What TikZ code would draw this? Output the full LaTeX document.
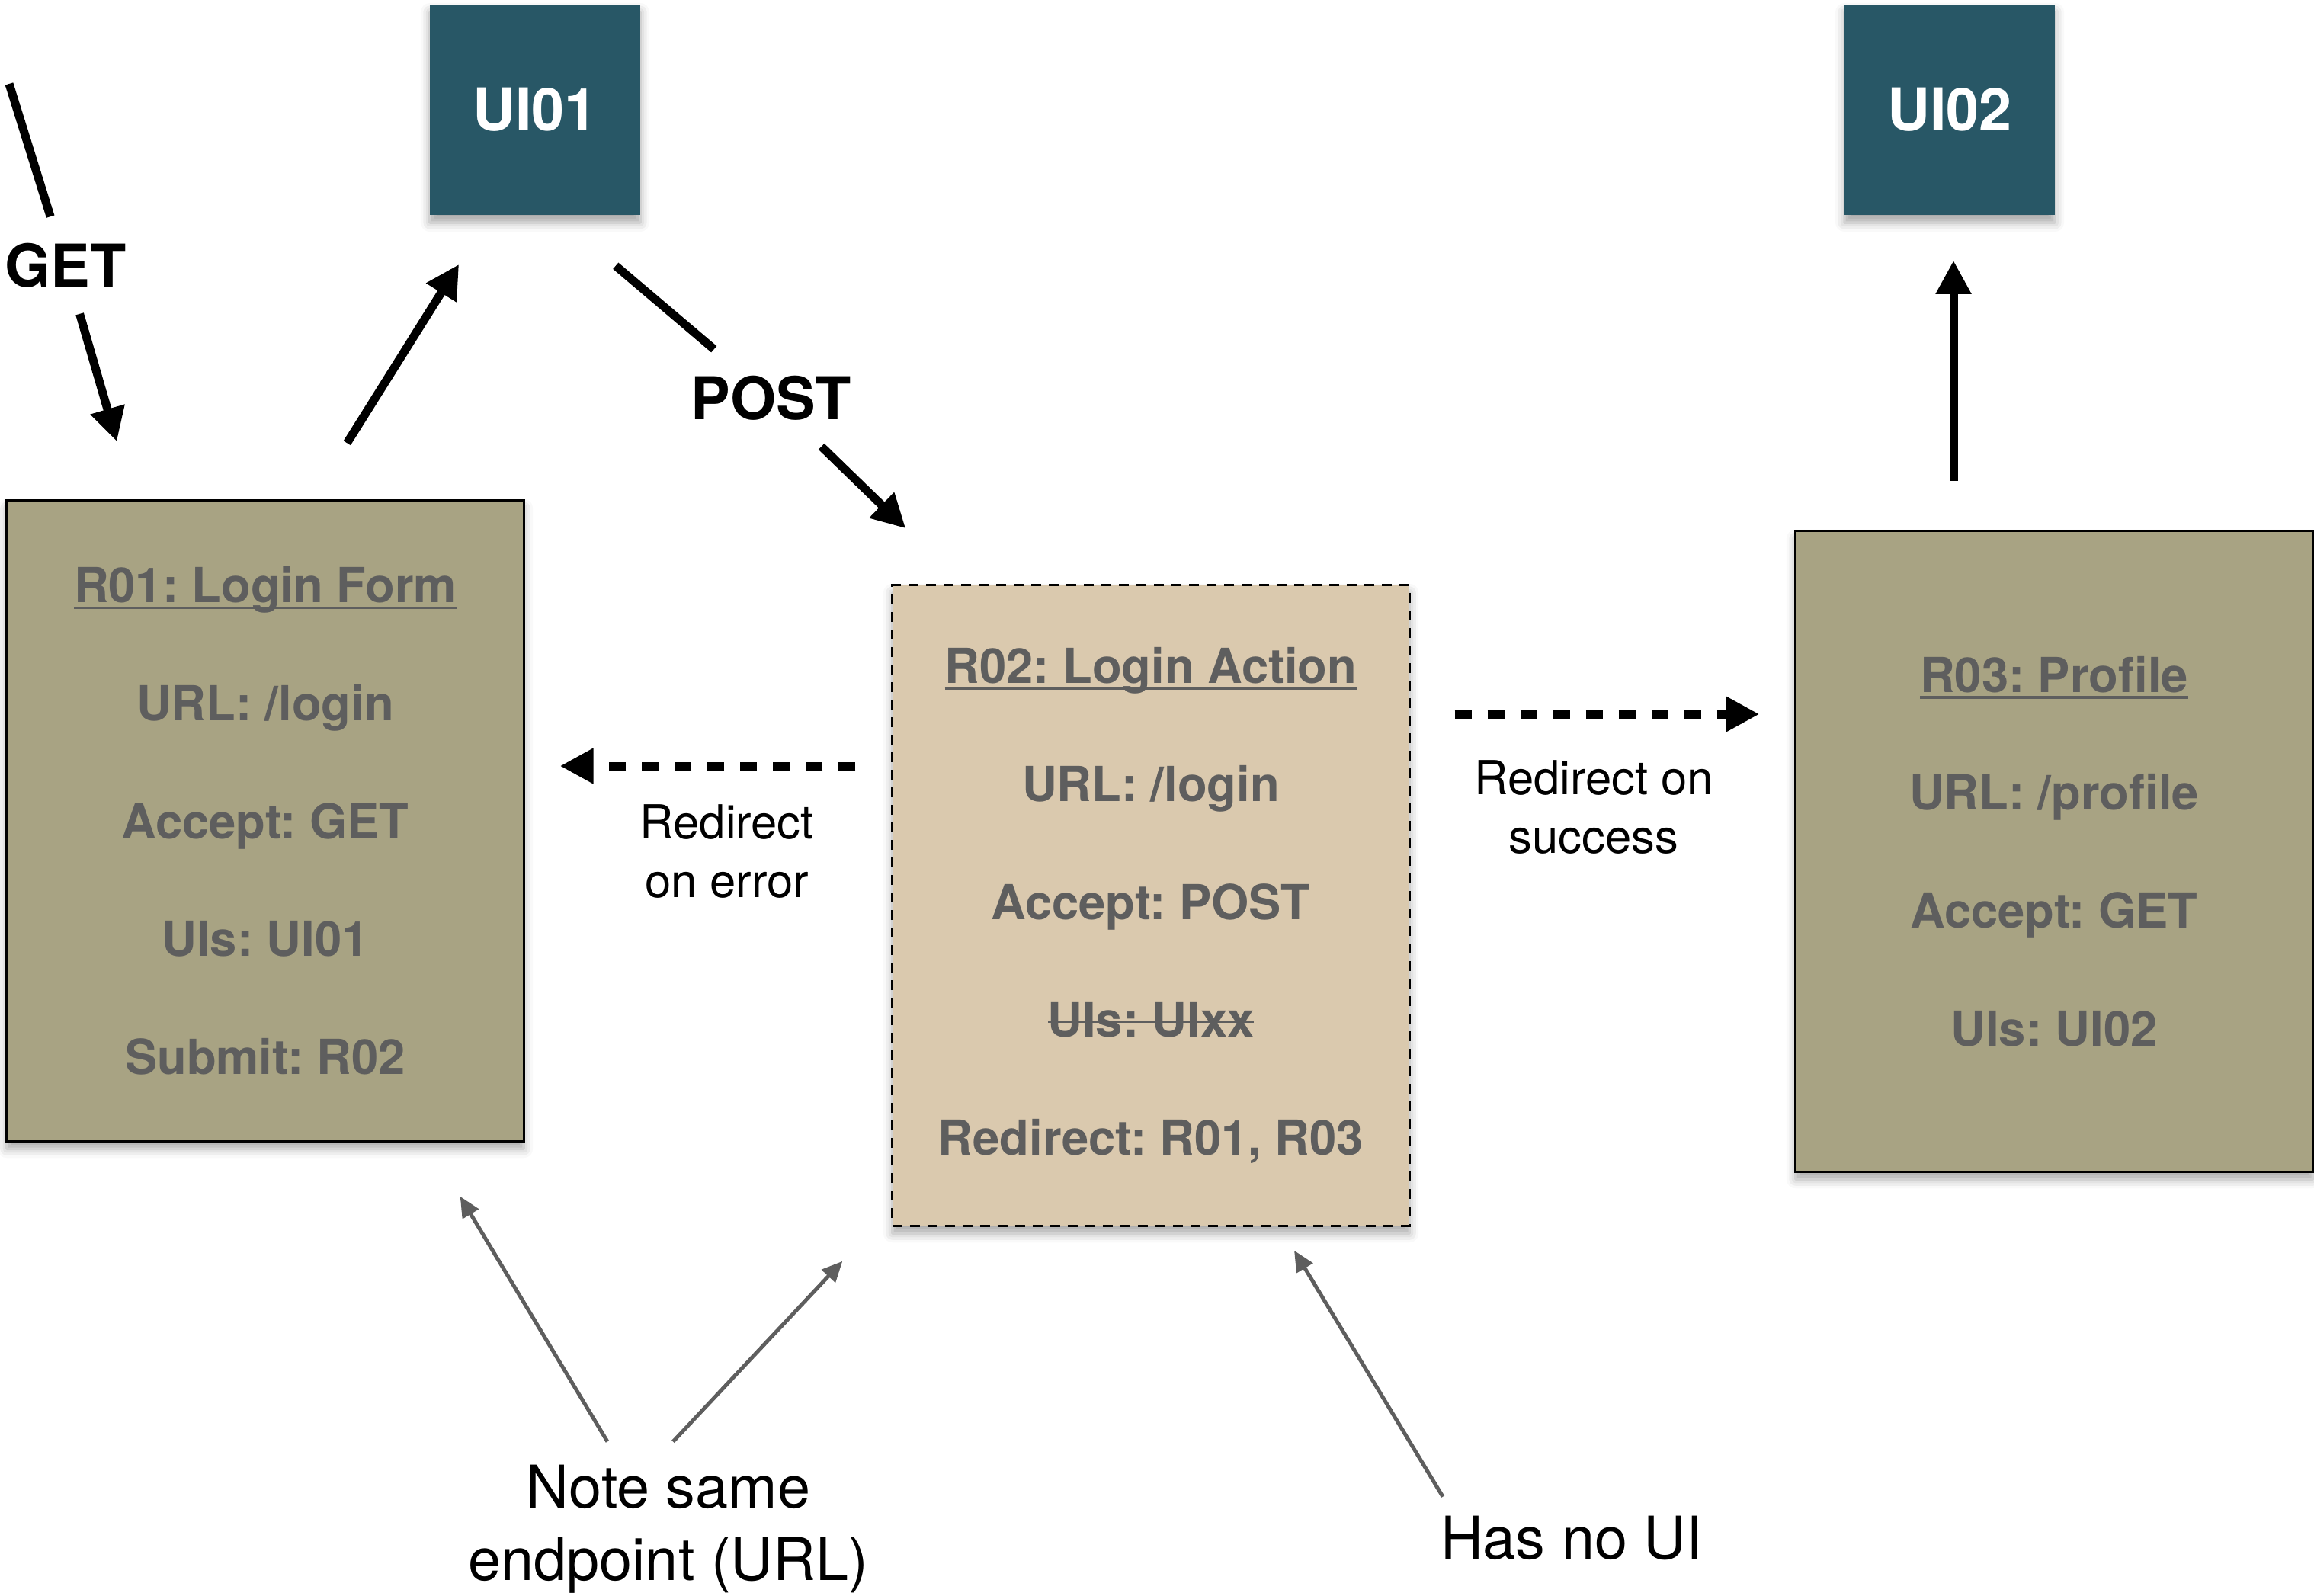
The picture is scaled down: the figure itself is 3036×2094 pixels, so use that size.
\documentclass[tikz,border=0pt]{standalone}
\usepackage{fontspec}
\setmainfont{TeX Gyre Heros}
\frenchspacing
\usetikzlibrary{arrows.meta,calc,shadows.blur}

\definecolor{uiteal}{RGB}{40,87,102}
\definecolor{routeolive}{RGB}{168,163,131}
\definecolor{actiontan}{RGB}{218,201,174}
\definecolor{inkgray}{RGB}{94,94,94}

% underlined title and struck-out line inside a route box
\newsavebox\linebox
\newcommand\ruleunder[1]{\sbox\linebox{#1}\rlap{\usebox\linebox}\rule[-2.4pt]{\wd\linebox}{0.9pt}}
\newcommand\rulethrough[1]{\sbox\linebox{#1}\rlap{\usebox\linebox}\rule[0.3em]{\wd\linebox}{0.9pt}}

\tikzset{
  soft/.style={blur shadow={shadow xshift=0cm, shadow yshift=-0.1cm,
      shadow blur radius=0.12cm, shadow opacity=35}},
  ui/.style={soft, fill=uiteal, text=white, minimum width=2.76cm,
    minimum height=2.76cm, font=\fontsize{22}{26}\selectfont\bfseries},
  route/.style={soft, draw, line width=0.03cm, fill=routeolive, text=inkgray,
    align=center, minimum width=6.78cm, minimum height=8.4cm,
    font=\fontsize{18}{44}\selectfont\bfseries},
  action/.style={route, fill=actiontan, dash pattern=on 0.13cm off 0.1cm},
  verb/.style={font=\fontsize{22}{26}\selectfont\bfseries,
    inner xsep=0.1cm, inner ysep=0.34cm},
  wire/.style={line width=0.11cm},
  flow/.style={wire, -{Triangle[length=0.44cm,width=0.44cm]}},
  redir/.style={flow, dash pattern=on 0.22cm off 0.21cm},
  tag/.style={font=\fontsize{17.5}{22}\selectfont, align=center},
  note/.style={font=\fontsize{22}{27}\selectfont, align=center},
  pointer/.style={draw=inkgray, line width=0.05cm,
    -{Triangle[length=0.27cm,width=0.24cm]}}
}

\begin{document}
\begin{tikzpicture}[x=0.01cm, y=-0.01cm]
  \useasboundingbox (0,0) rectangle (3036,2094);

  % screens
  \node[ui] (ui1) at (702,144) {UI01};
  \node[ui] (ui2) at (2558,144) {UI02};

  % routes
  \node[route] (r1) at (348,1077) {\ruleunder{R01: Login Form}\\URL: /login\\Accept: GET\\UIs: UI01\\Submit: R02};
  \node[action] (r2) at (1510,1188) {\ruleunder{R02: Login Action}\\URL: /login\\Accept: POST\\\rulethrough{UIs: UIxx}\\Redirect: R01, R03};
  \node[route] (r3) at (2695,1117) {\ruleunder{R03: Profile}\\URL: /profile\\Accept: GET\\UIs: UI02};

  \coordinate (getfrom) at (12,110);
  \node[verb] (get) at (86,348) {GET};
  \draw[wire] (getfrom) -- (get);
  \draw[flow] (get) -- ($(r1.north west)+(146,-76)$);
  \draw[flow] ($(r1.north west)+(448,-74)$) -- ($(ui1.south west)+(39,64)$);

  \node[verb] (post) at (1012,522) {POST};
  \draw[wire] ($(ui1.south east)+(-33,66)$) -- (post);
  \draw[flow] (post) -- ($(r2.north west)+(19,-73)$);

  \draw[flow] ($(r3.north)+(-132,-64)$) -- ($(ui2.south)+(5,59)$);

  \draw[redir] ($(r2.west)+(-47,-183)$) -- node[tag, pos=0.435, below=0.33cm] {Redirect\\on error} ($(r1.east)+(46,-72)$);
  \draw[redir] ($(r2.east)+(58,-251)$) -- node[tag, pos=0.456, below=0.43cm] {Redirect on\\success} ($(r3.west)+(-46,-180)$);

  % remarks
  \node[note] (same) at (877,2006) {Note same\\endpoint (URL)};
  \node[note] (noui) at (2062,2018) {Has no UI};
  \draw[pointer] ($(same.north)+(-80,-18)$) -- ($(r1.south east)+(-85,71)$);
  \draw[pointer] ($(same.north)+(6,-18)$) -- ($(r2.south west)+(-64,45)$);
  \draw[pointer] ($(noui.north)+(-169,-13)$) -- ($(r2.south)+(188,31)$);
\end{tikzpicture}
\end{document}
